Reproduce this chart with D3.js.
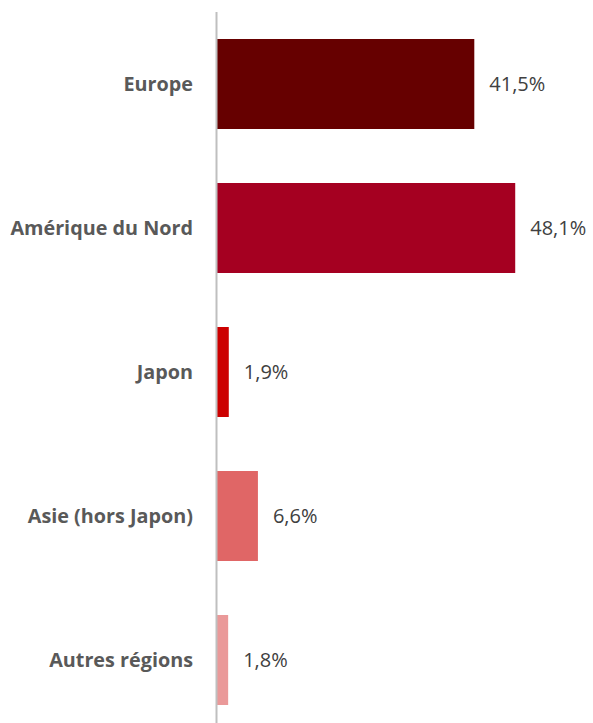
<!DOCTYPE html>
<html>
<head>
<meta charset="utf-8">
<script src="https://cdn.jsdelivr.net/npm/d3@7"></script>
<style>
  html, body { margin: 0; padding: 0; background: #fff; }
</style>
</head>
<body>
<div id="chart"></div>
<script>
// Data
const regions = ["Europe", "Amérique du Nord", "Japon", "Asie (hors Japon)", "Autres régions"];
const shares = [41.5, 48.1, 1.9, 6.6, 1.8];
const barColors = ["#660000", "#a50021", "#cc0000", "#e06666", "#ea9999"];

const width = 593;
const height = 723;

const data = regions.map((r, i) => ({ region: r, value: shares[i], color: barColors[i] }));

const svg = d3.select("#chart")
  .append("svg")
  .attr("width", width)
  .attr("height", height);

const x = d3.scaleLinear()
  .domain([0, 50])
  .range([217, 527]);

const y = d3.scaleBand()
  .domain(regions)
  .range([12, 732])
  .paddingInner(0.375)
  .paddingOuter(0.1875);

// Bars
svg.selectAll("rect.bar")
  .data(data)
  .enter()
  .append("rect")
  .attr("class", "bar")
  .attr("x", x(0))
  .attr("y", d => y(d.region))
  .attr("width", d => x(d.value) - x(0))
  .attr("height", y.bandwidth())
  .style("fill", d => d.color);

// Vertical axis line
svg.append("line")
  .attr("x1", x(0) - 0.5)
  .attr("x2", x(0) - 0.5)
  .attr("y1", 12)
  .attr("y2", height)
  .style("stroke", "#bfbfbf")
  .style("stroke-width", 2);

// Category labels
svg.selectAll("text.cat")
  .data(data)
  .enter()
  .append("text")
  .attr("class", "cat")
  .attr("x", 193)
  .attr("y", d => y(d.region) + y.bandwidth() / 2)
  .attr("dy", "0.36em")
  .style("text-anchor", "end")
  .style("font-family", "'Open Sans', sans-serif")
  .style("font-weight", "bold")
  .style("font-size", "19.8px")
  .style("fill", "#595959")
  .text(d => d.region);

// Value labels
svg.selectAll("text.val")
  .data(data)
  .enter()
  .append("text")
  .attr("class", "val")
  .attr("x", d => x(d.value) + 15)
  .attr("y", d => y(d.region) + y.bandwidth() / 2)
  .attr("dy", "0.36em")
  .style("font-family", "'Open Sans', sans-serif")
  .style("font-size", "20px")
  .style("fill", "#404040")
  .text(d => d3.format(".1f")(d.value).replace(".", ",") + "%");
</script>
</body>
</html>
